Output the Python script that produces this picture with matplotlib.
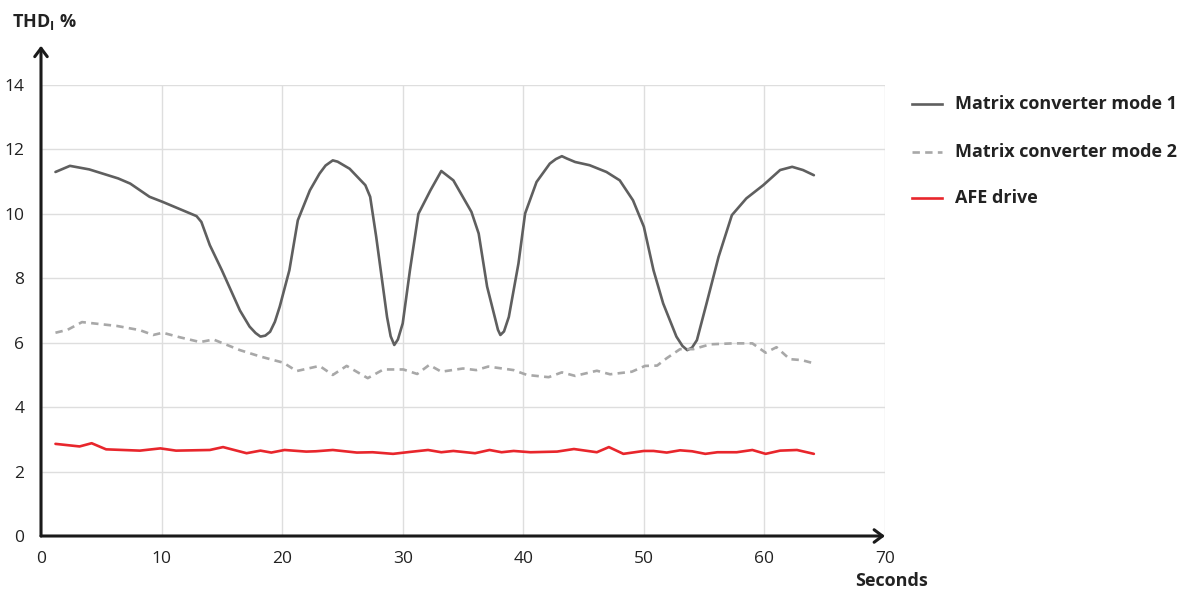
"""
THD_I over time: matrix converter (two modes) vs AFE drive.
"""

import matplotlib
matplotlib.use("Agg")
import matplotlib.pyplot as plt
from matplotlib.lines import Line2D

plt.rcParams["font.family"] = ["Open Sans", "DejaVu Sans"]
plt.rcParams["mathtext.fontset"] = "custom"
plt.rcParams["mathtext.rm"] = "Open Sans"
plt.rcParams["mathtext.bf"] = "Open Sans:bold"

# Matrix converter mode 1 (solid dark grey)
mode1_t = [1.2, 2.4, 4.0, 6.4, 7.4, 9.0, 10.1, 11.5, 12.9, 13.3, 14.0, 15.0,
           16.5, 17.3, 17.8, 18.2, 18.6, 19.0, 19.4, 19.8, 20.6, 21.3, 22.3,
           23.1, 23.6, 24.2, 24.6, 25.6, 26.9, 27.3, 27.8, 28.7, 29.0, 29.3,
           29.6, 30.0, 30.6, 31.3, 32.3, 33.2, 34.2, 35.7, 36.3, 37.0, 37.7,
           37.9, 38.1, 38.4, 38.8, 39.6, 40.15, 41.1, 42.2, 42.7, 43.2, 43.6,
           44.3, 45.5, 46.9, 48.0, 49.1, 50.0, 50.8, 51.6, 52.7, 53.2, 53.6,
           54.0, 54.4, 55.2, 56.2, 57.3, 58.5, 59.9, 61.3, 62.3, 63.2, 64.1]
mode1_thd = [11.3, 11.49, 11.38, 11.1, 10.94, 10.53, 10.37, 10.15, 9.93, 9.75,
             9.03, 8.25, 7.0, 6.5, 6.3, 6.19, 6.22, 6.34, 6.65, 7.12, 8.25,
             9.8, 10.73, 11.25, 11.5, 11.66, 11.62, 11.4, 10.89, 10.53, 9.29,
             6.8, 6.2, 5.93, 6.1, 6.6, 8.25, 10.0, 10.73, 11.33, 11.04, 10.06,
             9.39, 7.74, 6.7, 6.4, 6.24, 6.35, 6.8, 8.46, 10.01, 10.99, 11.56,
             11.7, 11.79, 11.72, 11.61, 11.51, 11.3, 11.04, 10.42, 9.6, 8.25,
             7.22, 6.19, 5.9, 5.77, 5.85, 6.08, 7.22, 8.67, 9.96, 10.48, 10.89,
             11.36, 11.46, 11.36, 11.2]

# Matrix converter mode 2 (dashed light grey)
mode2_t = [1.2, 2.2, 3.4, 6.3, 8.2, 9.3, 10.1, 11.5, 13.2, 14.3, 16.5, 18.2,
           20.1, 21.2, 23.1, 24.2, 25.35, 27.1, 28.4, 30.05, 31.2, 32.2, 33.2,
           35.0, 36.1, 37.1, 39.2, 40.3, 42.1, 43.2, 44.3, 46.1, 47.2, 49.0,
           50.1, 51.1, 51.9, 53.0, 54.1, 55.5, 57.4, 59.0, 60.1, 61.0, 62.1,
           63.1, 64.1]
mode2_thd = [6.31, 6.4, 6.64, 6.52, 6.39, 6.24, 6.31, 6.17, 6.02, 6.1, 5.77,
             5.57, 5.38, 5.12, 5.28, 5.0, 5.28, 4.9, 5.17, 5.17, 5.03, 5.31,
             5.1, 5.2, 5.15, 5.26, 5.15, 5.0, 4.93, 5.08, 4.97, 5.13, 5.02,
             5.1, 5.28, 5.29, 5.52, 5.8, 5.8, 5.95, 5.98, 5.98, 5.69, 5.86,
             5.49, 5.46, 5.36]

# AFE drive (red)
afe_t = [1.2, 3.2, 4.2, 5.4, 8.2, 9.9, 11.2, 14.0, 15.1, 17.05, 18.2, 19.1,
         20.2, 22.0, 22.8, 24.2, 26.2, 27.5, 29.2, 30.6, 32.1, 33.2, 34.2,
         36.0, 37.2, 38.2, 39.2, 40.6, 42.8, 44.2, 46.1, 47.1, 48.3, 50.0,
         50.8, 51.9, 53.0, 54.0, 55.1, 56.1, 57.7, 59.0, 60.1, 61.3, 62.7,
         64.1]
afe_thd = [2.86, 2.78, 2.88, 2.69, 2.65, 2.72, 2.65, 2.67, 2.76, 2.57, 2.65,
           2.59, 2.67, 2.62, 2.63, 2.67, 2.59, 2.6, 2.55, 2.61, 2.67, 2.6,
           2.64, 2.57, 2.67, 2.6, 2.64, 2.6, 2.62, 2.7, 2.6, 2.76, 2.55, 2.64,
           2.64, 2.59, 2.66, 2.63, 2.55, 2.6, 2.6, 2.67, 2.55, 2.65, 2.67,
           2.55]

x_ticks = [0, 10, 20, 30, 40, 50, 60, 70]
y_ticks = [0, 2, 4, 6, 8, 10, 12, 14]

series = [
    ("Matrix converter mode 1", mode1_t, mode1_thd, "#5f5f5f", "-"),
    ("Matrix converter mode 2", mode2_t, mode2_thd, "#a8a8a8", "--"),
    ("AFE drive", afe_t, afe_thd, "#e8262c", "-"),
]

W, H = 1201, 589
fig = plt.figure(figsize=(W / 100, H / 100), dpi=100)
ax = fig.add_axes([41 / W, (H - 536) / H, 844 / W, 451 / H])

for label, t, v, color, ls in series:
    line, = ax.plot(t, v, color=color, linewidth=1.9, linestyle=ls,
                    solid_capstyle="round", solid_joinstyle="round")
    if ls == "--":
        line.set_dashes((2.8, 2.0))

ax.set_xlim(0, 70)
ax.set_ylim(0, 14)
ax.set_xticks(x_ticks)
ax.set_yticks(y_ticks)
ax.grid(True, color="#dedede", linewidth=1.0)
ax.set_axisbelow(True)
for s in ax.spines.values():
    s.set_visible(False)
ax.tick_params(length=0, labelsize=12.5, colors="#222222")
ax.tick_params(axis="y", pad=12)
ax.tick_params(axis="x", pad=11)

# axis arrows
arrow = dict(arrowstyle="->,head_length=0.6,head_width=0.45", color="#1a1a1a",
             linewidth=2.2, shrinkA=0, shrinkB=0)
ax.annotate("", xy=(0, 1.087), xytext=(0, 0), xycoords="axes fraction",
            textcoords="axes fraction", arrowprops=arrow, annotation_clip=False)
ax.annotate("", xy=(1.0, 0), xytext=(0, 0), xycoords="axes fraction",
            textcoords="axes fraction", arrowprops=arrow, annotation_clip=False)

# axis titles
fig.text(12 / W, 1 - 27 / H, r"THD$_\mathbf{I}$ %", fontsize=13,
         fontweight="bold", color="#222222", ha="left", va="baseline")
fig.text(891 / W, 1 - 586 / H, "Seconds", fontsize=13, fontweight="bold",
         color="#222222", ha="center", va="baseline")

# legend
rows = [104, 152, 198]
for (label, t, v, color, ls), y in zip(series, rows):
    ln = Line2D([912 / W, 942 / W], [1 - y / H, 1 - y / H],
                transform=fig.transFigure, color=color, linewidth=1.9,
                linestyle=ls)
    if ls == "--":
        ln.set_dashes((2.8, 2.0))
    fig.add_artist(ln)
    fig.text(955 / W, 1 - y / H, label, fontsize=13, fontweight="bold",
             color="#222222", ha="left", va="center")

fig.savefig("out.png", dpi=100)
